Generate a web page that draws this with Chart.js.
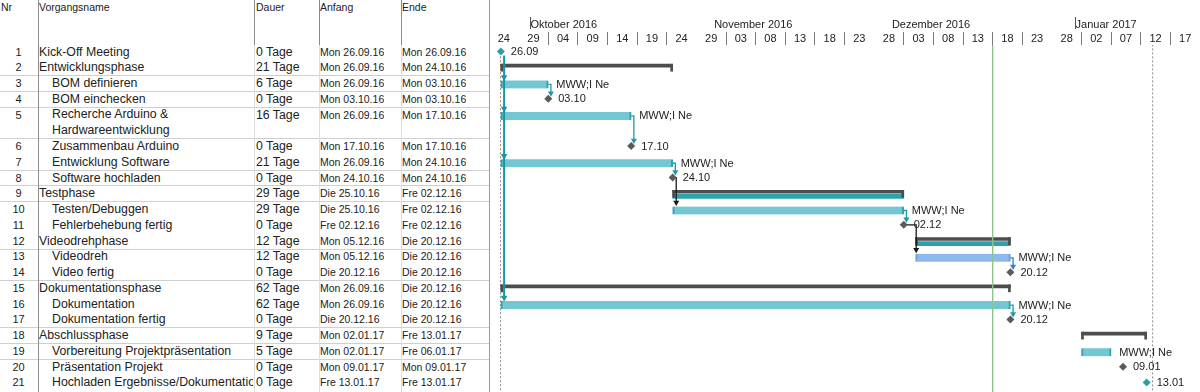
<!DOCTYPE html>
<html>
<head>
<meta charset="utf-8">
<script src="https://cdn.jsdelivr.net/npm/chart.js@4.4.0/dist/chart.umd.min.js"></script>
<style>
body { margin:0; background:#fff; width:1200px; height:392px; overflow:hidden; position:relative;
       font-family:"Liberation Sans", Arial, sans-serif; color:#222; }
#tbl { position:absolute; left:0; top:0; width:489px; height:392px; border-right:1px solid #9a9a9a; }
.c { position:absolute; white-space:nowrap; line-height:14px; overflow:hidden; }
.hl { position:absolute; left:0; width:489px; height:1px; background:#cfcfcf; }
.vl { position:absolute; width:1px; }
#gantt { position:absolute; left:489px; top:0; }
</style>
</head>
<body>
<div id="tbl"></div>
<canvas id="gantt" width="711" height="392"></canvas>
<script>
// Vorgangsliste
var nr = [1,2,3,4,5,6,7,8,9,10,11,12,13,14,15,16,17,18,19,20,21];
var names = ['Kick-Off Meeting','Entwicklungsphase','BOM definieren','BOM einchecken',
    'Recherche Arduino & Hardwareentwicklung','Zusammenbau Arduino','Entwicklung Software',
    'Software hochladen','Testphase','Testen/Debuggen','Fehlerbehebung fertig','Videodrehphase',
    'Videodreh','Video fertig','Dokumentationsphase','Dokumentation','Dokumentation fertig',
    'Abschlussphase','Vorbereitung Projektpräsentation','Präsentation Projekt',
    'Hochladen Ergebnisse/Dokumentation'];
var levels = [1,1,2,2,2,2,2,2,1,2,2,1,2,2,1,2,2,1,2,2,2];
var dauer = ['0 Tage','21 Tage','6 Tage','0 Tage','16 Tage','0 Tage','21 Tage','0 Tage','29 Tage',
    '29 Tage','0 Tage','12 Tage','12 Tage','0 Tage','62 Tage','62 Tage','0 Tage','9 Tage','5 Tage',
    '0 Tage','0 Tage'];
var anfang = ['Mon 26.09.16','Mon 26.09.16','Mon 26.09.16','Mon 03.10.16','Mon 26.09.16','Mon 17.10.16',
    'Mon 26.09.16','Mon 24.10.16','Die 25.10.16','Die 25.10.16','Fre 02.12.16','Mon 05.12.16',
    'Mon 05.12.16','Die 20.12.16','Mon 26.09.16','Mon 26.09.16','Die 20.12.16','Mon 02.01.17',
    'Mon 02.01.17','Mon 09.01.17','Fre 13.01.17'];
var ende = ['Mon 26.09.16','Mon 24.10.16','Mon 03.10.16','Mon 03.10.16','Mon 17.10.16','Mon 17.10.16',
    'Mon 24.10.16','Mon 24.10.16','Fre 02.12.16','Fre 02.12.16','Fre 02.12.16','Die 20.12.16',
    'Die 20.12.16','Die 20.12.16','Die 20.12.16','Die 20.12.16','Die 20.12.16','Fre 13.01.17',
    'Fre 06.01.17','Mon 09.01.17','Fre 13.01.17'];

// Zeitachse (Tage nach dem 24.09.2016)
var dayTickLabels = ['24','29','04','09','14','19','24','29','03','08','13','18',
                     '23','28','03','08','13','18','23','28','02','07','12','17'];
var monthLabels = ['Oktober 2016','November 2016','Dezember 2016','Januar 2017'];
var monthStart = [7, 38, 68, 99];

// Balken
var taskRows  = [3, 5, 7, 10, 13, 16, 19];
var taskStart = [2, 2, 2, 31, 72, 2, 100];
var taskEnd   = [10, 24, 31, 70, 88, 88, 105];
var taskCritical = [true, true, true, true, false, true, true];
var taskText = ['MWW;I Ne','MWW;I Ne','MWW;I Ne','MWW;I Ne','MWW;I Ne','MWW;I Ne','MWW;I Ne'];

var summaryRows  = [2, 9, 12, 15, 18];
var summaryStart = [2, 31, 72, 2, 100];
var summaryEnd   = [31, 70, 88, 88, 111];
var summaryCritical = [false, true, true, false, false];

var milestoneRows = [1, 4, 6, 8, 11, 14, 17, 20, 21];
var milestoneDay  = [2, 10, 24, 31, 70, 88, 88, 107, 111];
var milestoneText = ['26.09','03.10','17.10','24.10','02.12','20.12','20.12','09.01','13.01'];

var linkFrom = [3, 5, 7, 8, 10, 11, 13, 16];
var linkTo   = [4, 6, 8, 10, 11, 13, 14, 17];
var kickoffTo = [3, 5, 7, 16];

var todayDay = 85, projectStart = 2, projectEnd = 112;

/* Geometrie */
var ROW_H = 15.76, FIRST_Y = 51.5, HEAD_H = 45;
function slotOf(r) { return r <= 5 ? r - 1 : r; }
function rowY(s) { return FIRST_Y + s * ROW_H; }

/* Tabelle links */
var tbl = document.getElementById('tbl');
function put(txt, left, top, size, css) {
    var d = document.createElement('div');
    d.className = 'c';
    d.textContent = txt;
    d.style.left = left + 'px';
    d.style.top = top + 'px';
    d.style.fontSize = size + 'px';
    if (css) d.style.cssText += css;
    tbl.appendChild(d);
    return d;
}
function line(cls, css) {
    var d = document.createElement('div');
    d.className = cls;
    d.style.cssText += css;
    tbl.appendChild(d);
}
[1,2,3,5,7,8,9,12,14,17,18,19].forEach(function(s) {
    line('hl', 'top:' + Math.round(rowY(s + 0.5)) + 'px');
});
line('vl', 'left:38px;top:0;height:392px;background:#8c8c8c');
[254, 319, 401].forEach(function(x) {
    line('vl', 'left:' + x + 'px;top:0;height:45px;background:#8c8c8c');
    line('vl', 'left:' + x + 'px;top:45px;height:347px;background:#dedede');
});
put('Nr', 1, 0, 10.5);
put('Vorgangsname', 39, 0, 10.5);
put('Dauer', 256, 0, 10.5);
put('Anfang', 320, 0, 10.5);
put('Ende', 402, 0, 10.5);
nr.forEach(function(n, i) {
    var y = Math.round(rowY(slotOf(n)) - 7);
    put(String(n), 0, y, 11, 'width:37px;text-align:center');
    var left = levels[i] === 1 ? 39 : 52;
    var nm = put(names[i], left, y, 12.3, 'width:' + (253 - left) + 'px');
    if (n === 5) { nm.style.whiteSpace = 'normal'; nm.style.width = '190px'; nm.style.lineHeight = ROW_H + 'px'; nm.style.top = (y - 1) + 'px'; }
    put(dauer[i], 256, y, 12.3);
    put(anfang[i], 320, y, 10.5);
    put(ende[i], 402, y, 10.5);
});

/* Gantt */
Chart.defaults.font.family = '"Liberation Sans", Arial, sans-serif';
Chart.defaults.font.size = 11;
Chart.defaults.color = '#222';

var teal = '#72c7d2', tealDark = '#2ea3ad', blue = '#8db9ec', dark = '#4d4d4d';

var datasets = [];

// heute + Projektanfang/-ende
datasets.push({ type:'line', data:[{x:todayDay, y:-0.45}, {x:todayDay, y:21.7}],
    borderColor:'#8cc48c', borderWidth:1, pointRadius:0, order:0 });
datasets.push({ type:'line', data:[{x:projectStart - 0.05, y:0.3}, {x:projectStart - 0.05, y:21.7}],
    borderColor:'#8a8a8a', borderWidth:1, borderDash:[2,2], pointRadius:0, order:9 });
datasets.push({ type:'line', data:[{x:projectEnd, y:-0.45}, {x:projectEnd, y:21.7}],
    borderColor:'#8a8a8a', borderWidth:1, borderDash:[2,2], pointRadius:0, order:9 });

// Sammelvorgaenge
datasets.push({ type:'bar', stack:'g', order:5, barThickness:3, backgroundColor:dark,
    data: summaryRows.map(function(r, i) { return {x:[summaryStart[i], summaryEnd[i]], y:slotOf(r) - 0.1}; }) });
var caps = [];
summaryRows.forEach(function(r, i) {
    caps.push({x:[summaryStart[i], summaryStart[i] + 0.34], y:slotOf(r) + 0.03});
    caps.push({x:[summaryEnd[i] - 0.34, summaryEnd[i]], y:slotOf(r) + 0.03});
});
datasets.push({ type:'bar', stack:'g', order:5, barThickness:7, backgroundColor:dark, data:caps });
datasets.push({ type:'bar', stack:'g', order:5, barThickness:4, backgroundColor:tealDark,
    data: summaryRows.map(function(r, i) {
        return summaryCritical[i] ? {x:[summaryStart[i], summaryEnd[i]], y:slotOf(r) + 0.19} : null;
    }).filter(Boolean) });

// Vorgaenge
datasets.push({ type:'bar', stack:'g', order:4, barThickness:8,
    backgroundColor: taskCritical.map(function(c) { return c ? teal : blue; }),
    borderColor: taskCritical.map(function(c) { return c ? tealDark : '#6a9fe0'; }),
    borderWidth:{left:2, right:2, top:0, bottom:0}, borderSkipped:false,
    data: taskRows.map(function(r, i) { return {x:[taskStart[i], taskEnd[i]], y:slotOf(r) + 0.09}; }),
    endLabels: taskText, labelGap: 8 });

// Anordnungsbeziehungen
function endOf(r) {
    var t = taskRows.indexOf(r);
    if (t >= 0) return taskEnd[t];
    return milestoneDay[milestoneRows.indexOf(r)];
}
function startOf(r) {
    var t = taskRows.indexOf(r);
    if (t >= 0) return taskStart[t];
    return milestoneDay[milestoneRows.indexOf(r)];
}
linkFrom.forEach(function(f, i) {
    var t = linkTo[i], pts, col;
    var fromTask = taskRows.indexOf(f) >= 0;
    if (fromTask) {
        var xv = endOf(f) + 0.45;
        pts = [{x:endOf(f), y:slotOf(f) + 0.09}, {x:xv, y:slotOf(f) + 0.09}, {x:xv, y:slotOf(t) - 0.35}];
        col = taskCritical[taskRows.indexOf(f)] ? '#1f9aa8' : '#2d7fd8';
    } else {
        var xs = Math.max(endOf(f) + 0.6, startOf(t) + 0.1);
        pts = [{x:endOf(f) + 0.5, y:slotOf(f)}, {x:xs, y:slotOf(f)}, {x:xs, y:slotOf(t) - 0.42}];
        col = '#1a1a1a';
    }
    datasets.push({ type:'line', data:pts, borderColor:col, backgroundColor:col, borderWidth:1.3,
        order:2, pointStyle:'triangle', pointRotation:180, pointBorderWidth:0,
        pointRadius: function(c) { return c.dataIndex === 2 ? 3.5 : 0; } });
});
var kick = [{x:2.55, y:slotOf(1) + 0.25}];
kickoffTo.forEach(function(r) { kick.push({x:2.55, y:slotOf(r) - 0.38}); });
datasets.push({ type:'line', data:kick, borderColor:'#1797a6', backgroundColor:'#1797a6', borderWidth:2,
    order:2, pointStyle:'triangle', pointRotation:180, pointBorderWidth:0,
    pointRadius: function(c) { return c.dataIndex === 0 ? 0 : 3.8; } });

// Meilensteine
datasets.push({ type:'scatter', order:1, pointStyle:'rectRot', pointRadius:4, pointBorderWidth:0,
    backgroundColor: milestoneRows.map(function(r) { return (r === 1 || r === 21) ? '#2a9fab' : '#5a5a5a'; }),
    data: milestoneRows.map(function(r, i) { return {x:milestoneDay[i], y:slotOf(r)}; }),
    endLabels: milestoneText, labelGap: 10 });

var labelPlugin = {
    id: 'endLabels',
    afterDatasetsDraw: function(chart) {
        var ctx = chart.ctx;
        chart.data.datasets.forEach(function(ds, i) {
            if (!ds.endLabels) return;
            var meta = chart.getDatasetMeta(i);
            ctx.save();
            ctx.font = '11px "Liberation Sans", Arial, sans-serif';
            ctx.fillStyle = '#222';
            ctx.textBaseline = 'middle';
            meta.data.forEach(function(el, j) {
                var x = el.base !== undefined ? Math.max(el.x, el.base) : el.x;
                ctx.fillText(ds.endLabels[j], x + ds.labelGap, el.y + 0.5);
            });
            ctx.restore();
        });
    }
};

var hiddenSep = [0, 1, 7, 13, 19, 24];

new Chart(document.getElementById('gantt').getContext('2d'), {
    type: 'bar',
    data: { datasets: datasets },
    options: {
        responsive: false,
        animation: false,
        events: [],
        indexAxis: 'y',
        layout: { padding: 0, autoPadding: false },
        plugins: { legend: { display: false }, tooltip: { enabled: false } },
        scales: {
            x: {
                type: 'linear', axis: 'x', position: 'top', weight: 0, offset: false,
                min: 0, max: 120, bounds: 'data', stacked: false,
                afterFit: function(s) { s.height = 16; },
                afterBuildTicks: function(s) {
                    s.ticks = dayTickLabels.map(function(t, i) { return {value: i * 5 + 2.5}; });
                },
                ticks: { autoSkip: false, maxRotation: 0, padding: -14, color: '#222',
                    callback: function(v, i) { return dayTickLabels[i]; } },
                grid: { offset: true, drawOnChartArea: false, drawTicks: true, tickLength: 13,
                    color: function(c) { return hiddenSep.indexOf(c.index) >= 0 ? 'rgba(0,0,0,0)' : '#7a7a7a'; } },
                border: { display: false }
            },
            x2: {
                type: 'linear', axis: 'x', position: 'top', weight: 1, offset: false,
                min: 0, max: 120, bounds: 'data',
                afterFit: function(s) { s.height = 29; },
                afterBuildTicks: function(s) {
                    s.ticks = monthStart.map(function(v) { return {value: v}; });
                },
                ticks: { autoSkip: false, maxRotation: 0, align: 'start', padding: -15, color: '#222',
                    callback: function(v, i) { return monthLabels[i]; } },
                grid: { drawOnChartArea: false, drawTicks: true, tickLength: 12,
                    color: function(c) { return (c.index === 0 || c.index === 3) ? '#555' : 'rgba(0,0,0,0)'; } },
                border: { display: false }
            },
            y: {
                type: 'linear', display: false, reverse: true, bounds: 'data', offset: false,
                min: -(FIRST_Y - HEAD_H) / ROW_H,
                max: -(FIRST_Y - HEAD_H) / ROW_H + (392 - HEAD_H) / ROW_H
            }
        }
    },
    plugins: [labelPlugin]
});
</script>
</body>
</html>
